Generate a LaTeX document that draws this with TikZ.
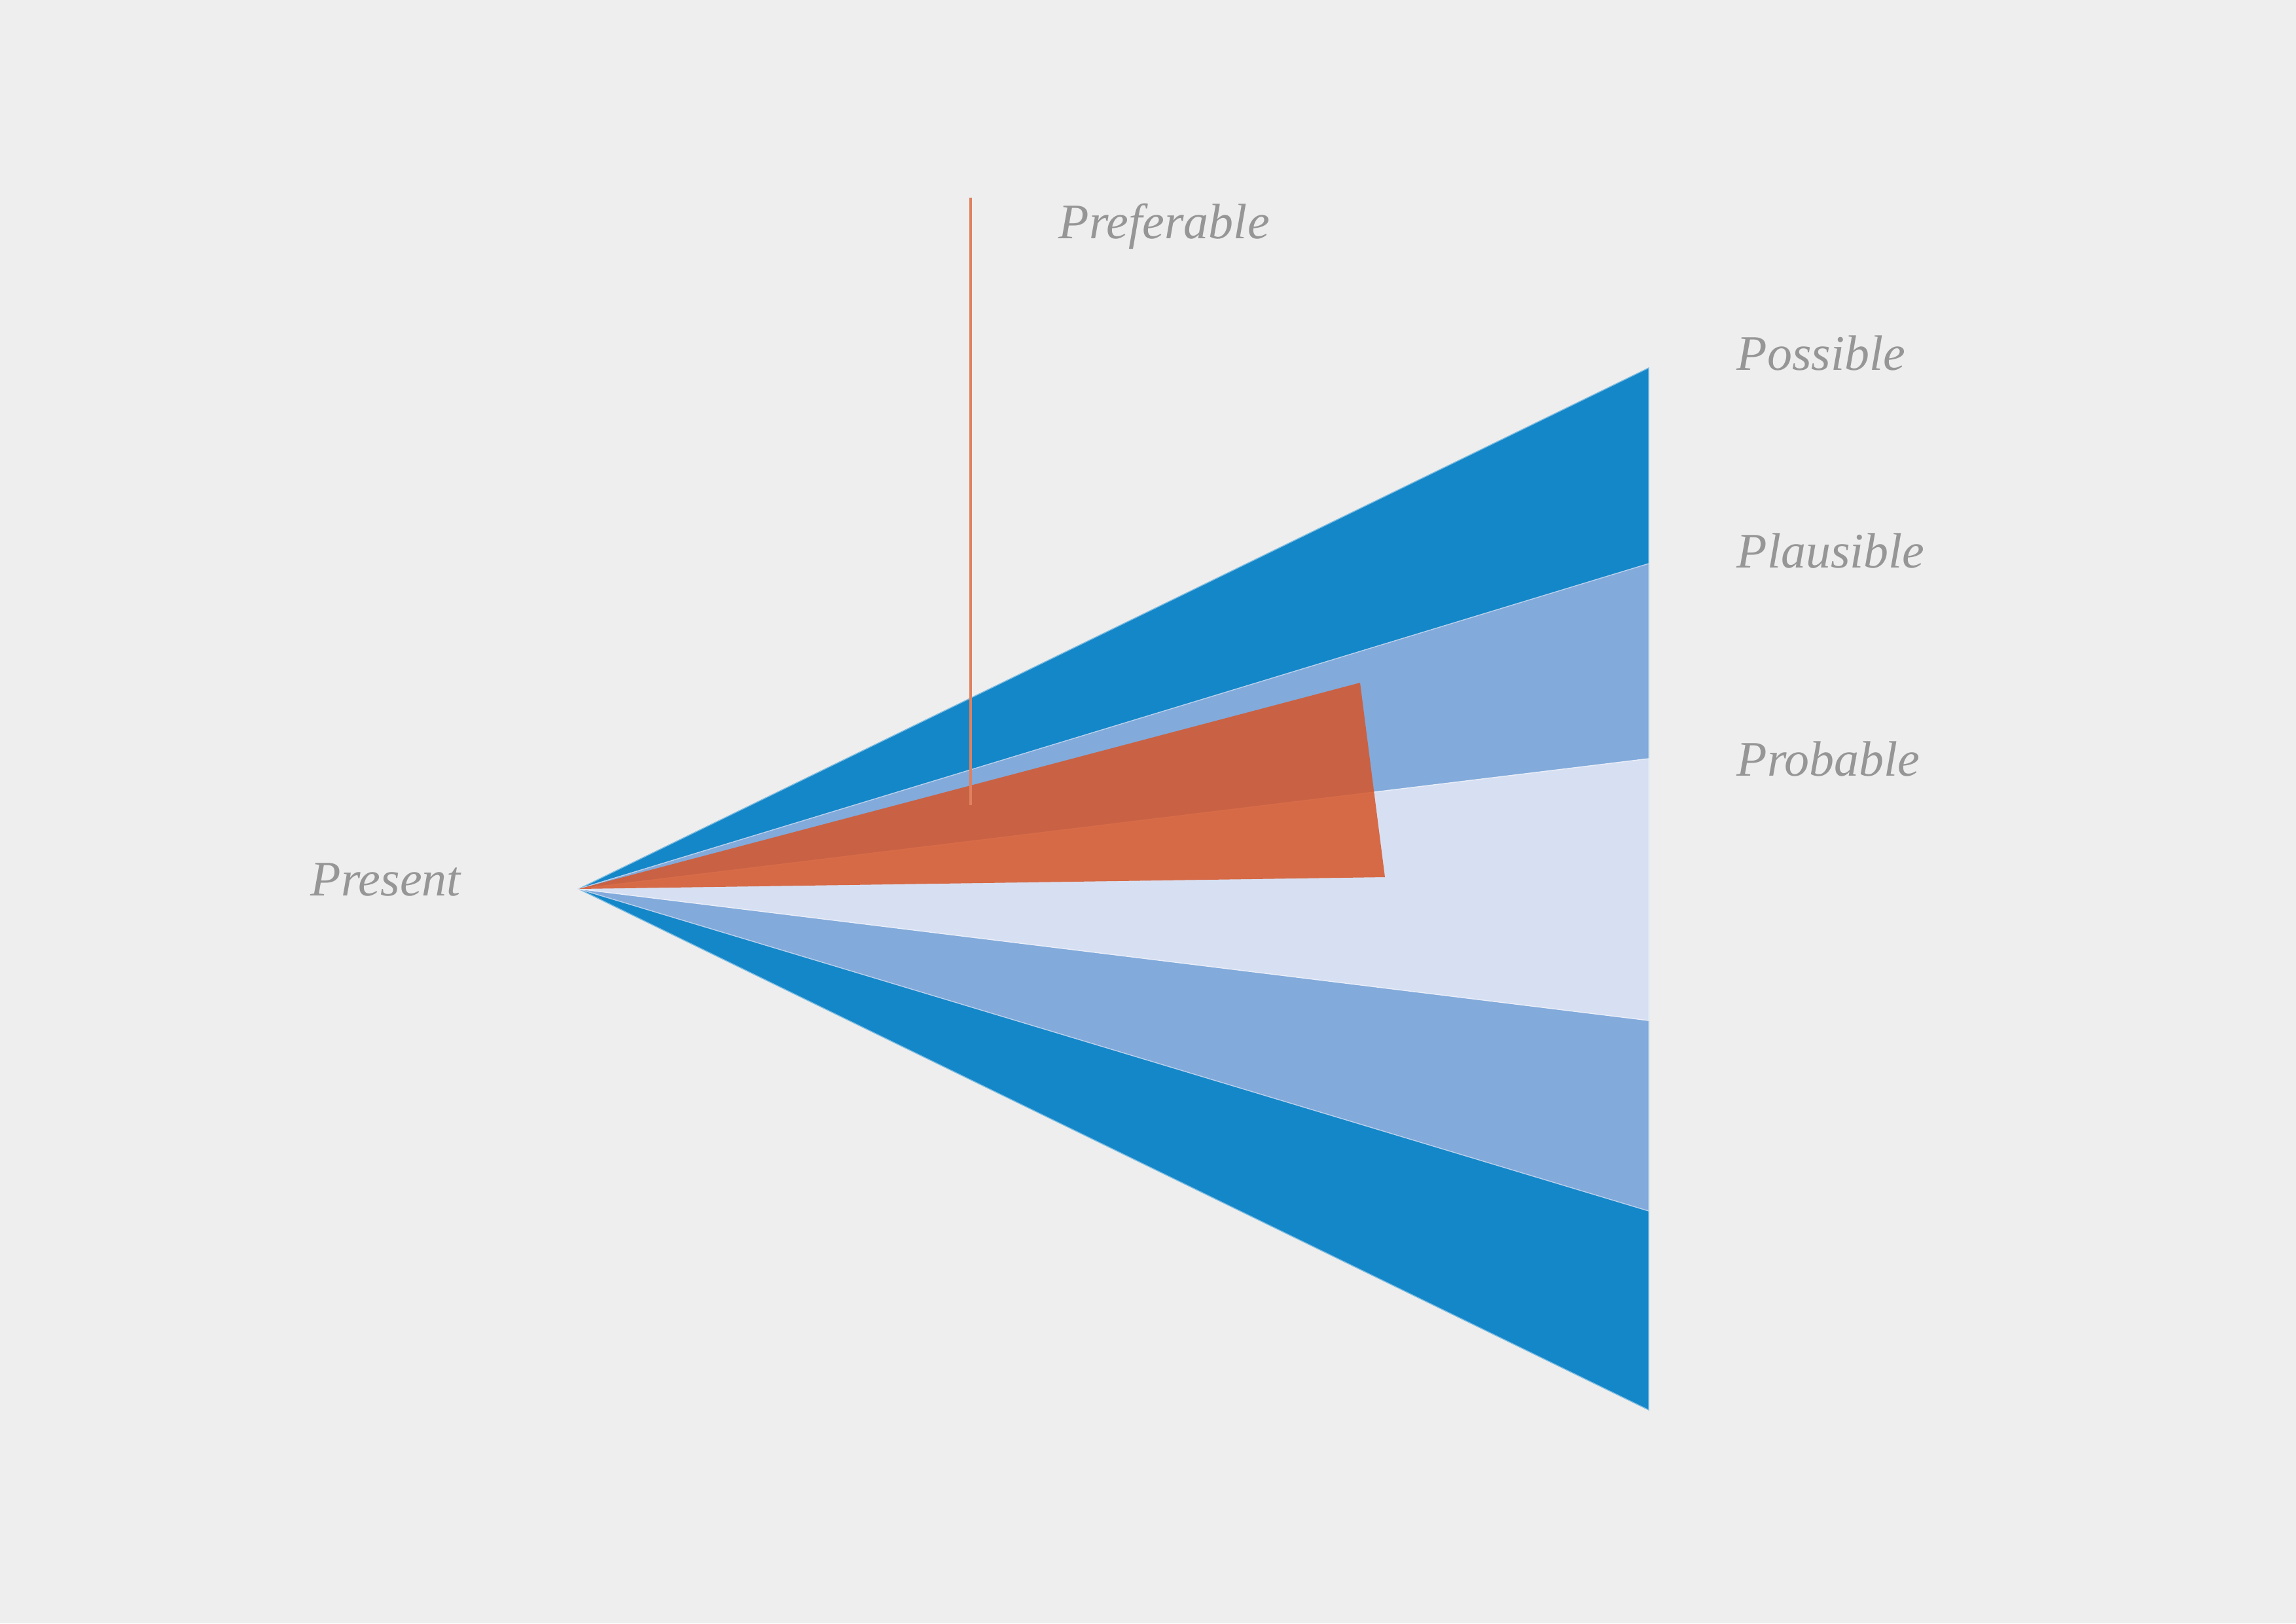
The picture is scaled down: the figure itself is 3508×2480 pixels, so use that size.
\documentclass[tikz,border=0pt]{standalone}
\usepackage{fontspec}
\setmainfont{Liberation Serif}

\definecolor{bgGrey}{HTML}{EEEEEE}
\definecolor{possibleBlue}{HTML}{1487C9}
\definecolor{plausibleBlue}{HTML}{82AADB}
\definecolor{probableBlue}{HTML}{D7E0F2}
\definecolor{preferOrange}{HTML}{D6562A}
\definecolor{labelGrey}{HTML}{969696}

\begin{document}
\begin{tikzpicture}[x=0.01cm, y=-0.01cm,
  every node/.style = {inner sep=0pt, anchor=base west,
    font=\fontsize{21.6}{26}\selectfont\itshape, text=labelGrey},
  band/.style = {draw=#1!55!white, line width=0.4pt, fill=#1}]

  \fill[bgGrey] (0,0) rectangle (3508,2480);

  \coordinate (tip) at (884,1358);

  % cone of futures
  \path[band=possibleBlue]  (tip) -- (2519,562)  -- (2519,2154) -- cycle;
  \path[band=plausibleBlue] (tip) -- (2519,861)  -- (2519,1850) -- cycle;
  \path[band=probableBlue]  (tip) -- (2519,1159) -- (2519,1559) -- cycle;

  % preferable wedge
  \fill[preferOrange, opacity=0.85] (tip) -- (2078,1043) -- (2116,1340) -- cycle;
  \coordinate (pref top)  at (1483,302);
  \coordinate (pref foot) at (1483,1230);
  \draw[preferOrange!75!white, line width=0.9pt] (pref top) -- (pref foot);

  \node (present)    at (474,1368)  {Present};
  \node (preferable) at (1617,364)  {Preferable};
  \node (possible)   at (2653,565)  {Possible};
  \node (plausible)  at (2653,867)  {Plausible};
  \node (probable)   at (2653,1185) {Probable};
\end{tikzpicture}
\end{document}
